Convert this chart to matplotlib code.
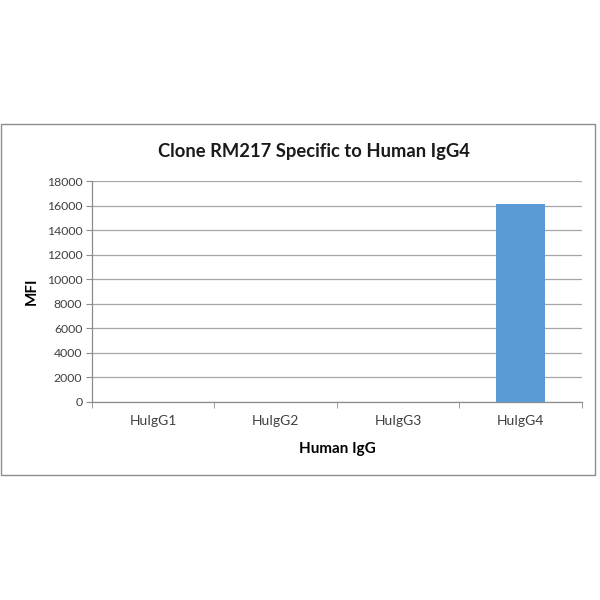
import matplotlib
matplotlib.use("Agg")
import matplotlib.pyplot as plt
from matplotlib.patches import Rectangle

categories = ["HuIgG1", "HuIgG2", "HuIgG3", "HuIgG4"]
values = [0, 0, 0, 16100]
yticks = [0, 2000, 4000, 6000, 8000, 10000, 12000, 14000, 16000, 18000]

plt.rcParams['font.family'] = ['Lato', 'DejaVu Sans']

fig = plt.figure(figsize=(6, 6), dpi=100)
fig.patches.append(Rectangle((0.002, 0.2083), 0.99, 0.585, transform=fig.transFigure,
                             fill=False, edgecolor='#8c8c8c', linewidth=1.0))

ax = fig.add_axes([0.1533, 0.33, 0.8167, 0.3683])
x = list(range(len(categories)))
ax.bar(x, values, width=0.4, color='#5b9bd5', zorder=3)
ax.set_xlim(-0.5, len(categories) - 0.5)
ax.set_ylim(0, 18000)
ax.set_yticks(yticks)
ax.set_yticklabels([str(v) for v in yticks], fontsize=8.8, color='#404040')
ax.set_xticks(x)
ax.set_xticklabels(categories, fontsize=10, color='#404040')
ax.tick_params(axis='x', length=0, pad=9.5)
ax.tick_params(axis='y', length=4, color='#8c8c8c', pad=3)
ax.set_xticks([i + 0.5 for i in range(-1, len(categories))], minor=True)
ax.tick_params(axis='x', which='minor', length=4, color='#8c8c8c')
ax.grid(axis='y', color='#a6a6a6', linewidth=0.9, zorder=0)
for s in ['top', 'right']:
    ax.spines[s].set_visible(False)
for s in ['left', 'bottom']:
    ax.spines[s].set_color('#8c8c8c')
    ax.spines[s].set_linewidth(0.9)

ax.set_ylabel('MFI', fontsize=11, fontweight='bold', labelpad=6)
ax.set_xlabel('Human IgG', fontsize=11, fontweight='bold', labelpad=11)
fig.text(314 / 600, 1 - 151 / 600, 'Clone RM217 Specific to Human IgG4', ha='center', va='center',
         fontsize=13.2, fontweight='bold', color='#1a1a1a')

fig.savefig('out.png', dpi=100, facecolor='white')
